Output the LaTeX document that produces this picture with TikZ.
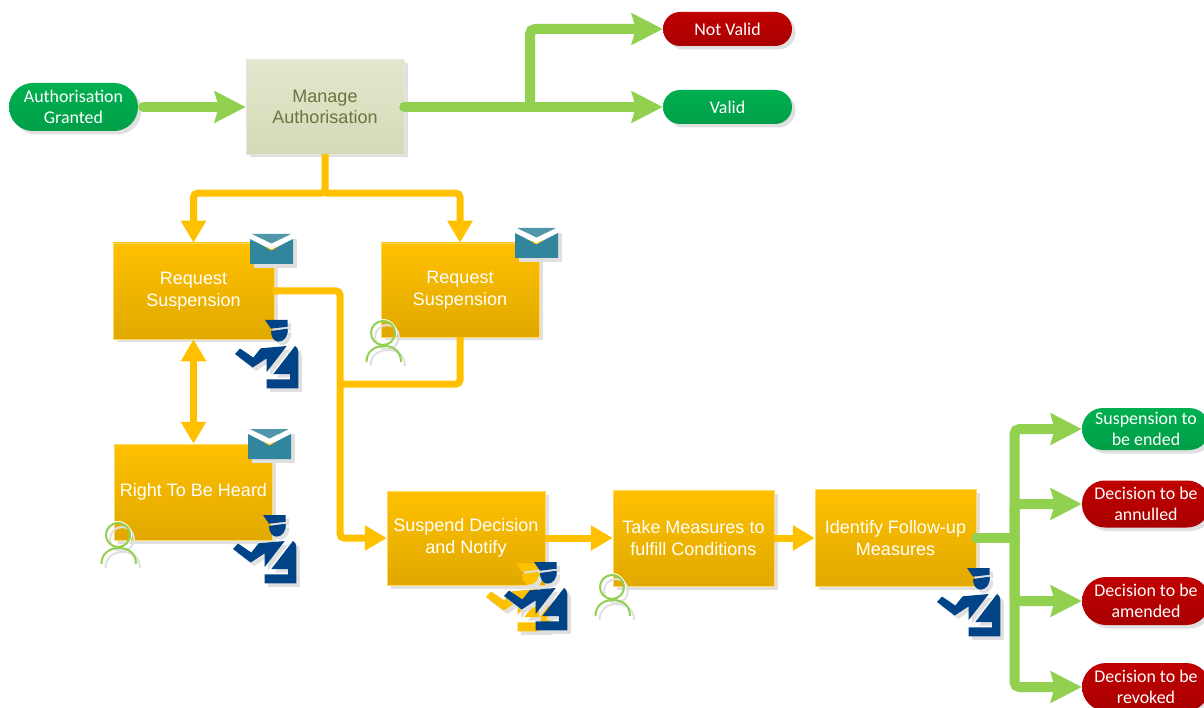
\documentclass[tikz,border=0pt]{standalone}
\usepackage{fontspec}
\setmainfont{Liberation Sans}
\newfontfamily\pillfont{Carlito}
\usetikzlibrary{arrows.meta,shadows,calc}
\definecolor{shadowgray}{HTML}{E0E0E0}
\definecolor{flowgreen}{HTML}{92D050}
\definecolor{floworange}{HTML}{FFC000}
\definecolor{policeblue}{HTML}{004386}
\definecolor{mailteal}{HTML}{31859C}
\newcommand\policeshape[1]{%
  \fill[#1] (28,0) -- (50.7,0) -- (50.7,6.7) -- (34,8.7) -- cycle;
  \fill[#1] (34,11) -- (50.7,8.7) .. controls (51.5,16) and (47,21.7) .. (41.5,21.7) .. controls (37,21.7) and (34,17) .. (34,11) -- cycle;
  \fill[#1] (58,26) .. controls (60,27) and (61.3,29) .. (61.3,32) -- (61.3,68.3) -- (29.7,68.3) -- (29.7,59.3) -- (53,59.3) -- (53,54) -- (36.3,54) -- cycle;
  \fill[#1] (-2,34) -- (3,28.5) -- (16.3,37.5) -- (23.7,28.3) -- (49.7,26) -- (29.7,52) -- (29.7,38.3) -- (15.7,47.5) -- cycle;
}
\newcommand\mailshape{%
  \fill[shadowgray] (4,5) rectangle (47,34);
  \fill[white] (0,0) -- (43,0) -- (43,6) -- (21.5,17) -- (0,6) -- cycle;
  \fill[mailteal!85!white] (2,0) -- (41,0) -- (21.5,9.5) -- cycle;
  \fill[mailteal] (0,5) -- (21.5,16) -- (43,5) -- (43,30) -- (0,30) -- cycle;
  \fill[floworange] (16,12.5) -- (21.5,15.5) -- (27,12.5) -- (27,13.5) -- (21.5,16.5) -- (16,13.5) -- cycle;
}
\newcommand\usershape[2]{%
  \draw[#1,line width=2pt,#2] (0,0) circle (12);
  \draw[#1,line width=2pt,#2] (-16.5,29) .. controls (-16.5,18) and (-8,13) .. (1,13) .. controls (10,13) and (18,18) .. (18,29);
}
\tikzset{
  x=1pt,y=-1pt,
  softshadow/.style={general shadow={fill=shadowgray,shadow xshift=3.5pt,shadow yshift=-3.5pt}},
  taskbox/.style={softshadow,draw=floworange!60!white,line width=.5pt,top color=floworange,bottom color=floworange!88!black,
    text=white,font=\fontsize{18}{21.5}\selectfont,align=center,inner sep=0pt},
  managebox/.style={softshadow,draw=white!90!black,line width=.5pt,top color=mgtop,bottom color=mgbot,
    text=mgtext,font=\fontsize{18}{21}\selectfont,align=center,inner sep=0pt},
  goodpill/.style={softshadow,top color=pillgreen,bottom color=pillgreen!90!black,text=white,
    font=\pillfont\fontsize{17.9}{21}\selectfont,align=center,inner sep=0pt},
  badpill/.style={softshadow,top color=pillred,bottom color=pillred!88!black,text=white,
    font=\pillfont\fontsize{17.9}{21}\selectfont,align=center,inner sep=0pt},
  greenflow/.style={draw=flowgreen,line width=10pt,rounded corners=5pt,line cap=round},
  greentip/.style={-{Stealth[length=31pt,width=31pt,inset=4pt]}},
  orangeflow/.style={draw=floworange,line width=7pt,rounded corners=4pt},
  orangetip/.style={-{Triangle[length=22pt,width=24pt]}},
  orangetips/.style={{Triangle[length=22pt,width=24pt]}-{Triangle[length=22pt,width=24pt]}},
  pics/police/.style={code={
    \begin{scope}[shift={(3.5,3.5)}]\policeshape{shadowgray}\end{scope}
    \policeshape{#1}
  }},
  pics/mail/.style={code={\mailshape}},
  pics/user/.style={code={
    \begin{scope}[shift={(4,4)}]\usershape{shadowgray}{}\end{scope}
    \draw[white,line width=1pt] (0,0) circle (13.5);
    \usershape{flowgreen}{}
  }},
}
\definecolor{mgtop}{HTML}{E2E7CD}
\definecolor{mgbot}{HTML}{D4DAB6}
\definecolor{mgtext}{HTML}{6B7340}
\definecolor{pillgreen}{HTML}{00B050}
\definecolor{pillred}{HTML}{C00000}
\begin{document}
\begin{tikzpicture}
\useasboundingbox (0,0) rectangle (1204,708);
\clip (0,0) rectangle (1204,708);
% terminals
\node[goodpill,minimum width=129pt,minimum height=48pt,rounded corners=24pt] (auth) at (73.5,107) {Authorisation\\Granted};
\node[badpill,minimum width=129pt,minimum height=34pt,rounded corners=17pt] (notvalid) at (727.5,29) {Not Valid};
\node[goodpill,minimum width=129pt,minimum height=34pt,rounded corners=17pt] (valid) at (727.5,107) {Valid};
\node[goodpill,minimum width=128pt,minimum height=42pt,rounded corners=21pt] (ended) at (1146,429) {Suspension to\\be ended};
\node[badpill,minimum width=128pt,minimum height=47pt,rounded corners=23pt] (annulled) at (1146,504) {Decision to be\\annulled};
\node[badpill,minimum width=128pt,minimum height=48pt,rounded corners=24pt] (amended) at (1146,601) {Decision to be\\amended};
\node[badpill,minimum width=128pt,minimum height=48pt,rounded corners=24pt] (revoked) at (1146,687) {Decision to be\\revoked};
% activities
\node[managebox,minimum width=158pt,minimum height=94pt] (manage) at (325,107) {Manage\\Authorisation};
\node[taskbox,minimum width=161pt,minimum height=96pt] (req1) at (193.5,291) {Request\\Suspension};
\node[taskbox,minimum width=158pt,minimum height=94pt] (req2) at (460,290) {Request\\Suspension};
\node[taskbox,minimum width=158pt,minimum height=96pt] (hear) at (193.5,492) {Right To Be Heard};
\node[taskbox,minimum width=158pt,minimum height=94pt] (suspend) at (466,538) {Suspend Decision\\and Notify};
\node[taskbox,minimum width=161pt,minimum height=96pt] (measures) at (693.5,538) {Take Measures to\\fulfill Conditions};
\node[taskbox,minimum width=161pt,minimum height=97pt] (followup) at (895.5,538) {Identify Follow-up\\Measures};
% junctions
\coordinate (jtop) at (530,107);
\coordinate (jman) at ($(manage.south)+(0,39)$);
\coordinate (jorange) at (340,384);
\coordinate (jgreen) at (1014.5,538);
% green connectors
\draw[greenflow,greentip,shorten <=5pt] (auth.east) -- (manage.west);
\draw[greenflow,greentip] (manage.east) -- (valid.west);
\draw[greenflow,greentip] (jtop) |- (notvalid.west);
\draw[greenflow] (followup.east) -- (jgreen);
\draw[greenflow,greentip] (jgreen) |- (ended.west);
\draw[greenflow,greentip] (jgreen) |- (annulled.west);
\draw[greenflow,greentip] (jgreen) |- (amended.west);
\draw[greenflow,greentip] (jgreen) |- (revoked.west);
% orange connectors
\draw[orangeflow,orangetip] (manage.south) |- (jman) -| (req1.north);
\draw[orangeflow,orangetip] (jman) -| (req2.north);
\draw[orangeflow,orangetips] (req1.south) -- (hear.north);
\draw[orangeflow,orangetip,shorten <=-2pt] (req1.east) -| (jorange) |- (suspend.west);
\draw[orangeflow] (req2.south) |- (jorange);
\draw[orangeflow,orangetip] (suspend.east) -- (measures.west);
\draw[orangeflow,orangetip] (measures.east) -- (followup.west);
% icons
\pic at (250,234) {mail};
\pic at (515,228) {mail};
\pic at (248,429) {mail};
\pic at (383,333) {user};
\pic at (118,535) {user};
\pic at (612,587) {user};
\pic at (237,320) {police=policeblue};
\pic at (235,515) {police=policeblue};
\pic at (488,563) {police=floworange};
\pic at (506,562) {police=policeblue};
\pic at (939,568) {police=policeblue};
\end{tikzpicture}
\end{document}
